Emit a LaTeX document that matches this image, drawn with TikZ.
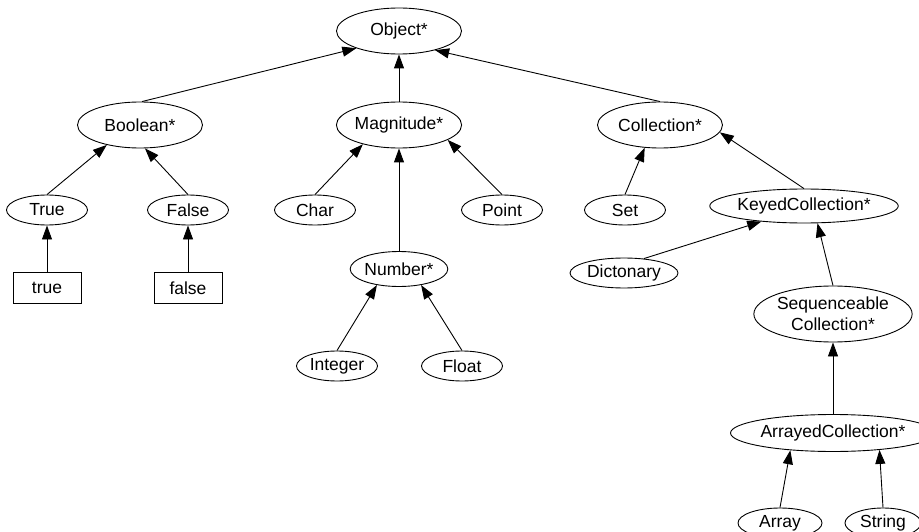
\documentclass[tikz,border=0pt]{standalone}
\usepackage{fontspec}
\setmainfont{Liberation Sans}
\usetikzlibrary{arrows.meta}
\usetikzlibrary{shapes.geometric}

\begin{document}
\begin{tikzpicture}[x=1pt, y=-1pt,
	every node/.style={font=\fontsize{17.5}{20}\selectfont, inner sep=0pt},
	cls/.style={ellipse, draw, line width=0.9pt, minimum width=81pt, minimum height=30pt},
	abstr/.style={cls, minimum width=125pt, minimum height=46pt},
	inst/.style={rectangle, draw, line width=0.9pt, minimum width=68pt, minimum height=31pt},
	isa/.style={line width=0.9pt, -{Triangle[length=14pt, width=10pt]}}
	]

	\useasboundingbox (0,0) rectangle (919,532);

	% top of the hierarchy
	\node[abstr] (obj) at (399,31) {Object*};
	\node[abstr] (bool) at (140,125) {Boolean*};
	\node[abstr] (mag) at (399,125) {Magnitude*};
	\node[abstr] (coll) at (660,125) {Collection*};

	% boolean branch
	\node[cls] (tru) at (47,210) {True};
	\node[cls] (fal) at (188,210) {False};
	\node[inst] (trueobj) at (47,288) {true};
	\node[inst] (falseobj) at (188,288) {false};

	% magnitude branch
	\node[cls] (chr) at (315,210) {Char};
	\node[cls] (pnt) at (502,210) {Point};
	\node[cls, minimum width=87pt, minimum height=35pt] (num) at (399,269) {Number*};
	\node[cls] (intg) at (337,366) {Integer};
	\node[cls] (flt) at (462,366) {Float};

	% collection branch
	\node[cls] (set) at (625,210) {Set};
	\node[cls, minimum width=157pt, minimum height=34pt] (keyed) at (804,206) {KeyedCollection*};
	\node[cls, minimum width=108pt] (dict) at (624,273) {Dictonary};
	\node[cls, minimum width=139pt, minimum height=56pt, align=center] (seq) at (833,314) {Sequenceable\\[1pt]Collection*};
	\node[cls, minimum width=170pt, minimum height=37pt] (arrd) at (833,433) {ArrayedCollection*};
	\node[cls, minimum width=84pt] (arr) at (780,523) {Array};
	\node[cls, minimum width=76pt] (str) at (883,523) {String};

	% inheritance edges: child/tail anchor/parent/head anchor
	\foreach \c/\t/\p/\h in {bool/85/obj/202, mag/north/obj/south, coll/north/obj/332,
		tru/north/bool/211, fal/north/bool/282,
		trueobj/north/tru/south, falseobj/north/fal/south,
		chr/north/mag/208, pnt/north/mag/343, num/north/mag/south,
		intg/north/num/216, flt/north/num/324,
		set/north/coll/236, keyed/north/coll/353,
		dict/36/keyed/200, seq/north/keyed/308,
		arrd/north/seq/south, arr/north/arrd/202, str/north/arrd/340} {
		\draw[isa] (\c.\t) -- (\p.\h);
	}

\end{tikzpicture}
\end{document}
